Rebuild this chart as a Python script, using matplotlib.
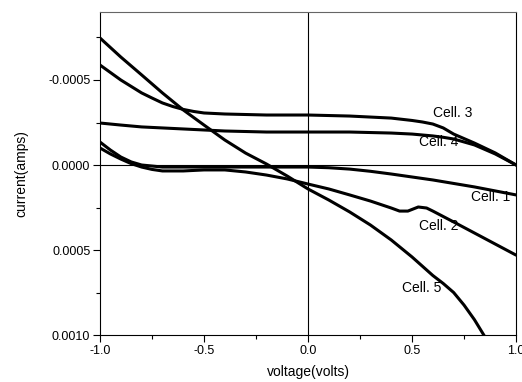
import matplotlib
matplotlib.use('Agg')
import matplotlib.pyplot as plt
from matplotlib.ticker import FormatStrFormatter, MultipleLocator

# voltage (V) / current (A)
v_cell1 = [-1.0, -0.95, -0.9, -0.85, -0.8, -0.7, -0.4, 0.0, 0.1, 0.2, 0.3, 0.4,
           0.6, 0.8, 1.0]
i_cell1 = [-0.000135, -0.000088, -0.000047, -0.000018, 0.0, 0.000012, 0.000012,
           0.000012, 0.000016, 0.000024, 0.000037, 0.000053, 0.000088, 0.000129,
           0.000176]

v_cell2 = [-1.0, -0.95, -0.9, -0.85, -0.8, -0.75, -0.7, -0.6, -0.5, -0.4, -0.3,
           -0.2, -0.1, 0.0, 0.1, 0.2, 0.3, 0.4, 0.44, 0.48, 0.53, 0.57, 0.6, 0.7,
           0.8, 0.9, 1.0]
i_cell2 = [-0.0001, -0.000065, -0.000035, -0.000008, 0.000012, 0.000026, 0.000035,
           0.000035, 0.000029, 0.000029, 0.000041, 0.000059, 0.000082, 0.000112,
           0.000141, 0.000176, 0.000212, 0.000253, 0.000271, 0.000271, 0.000247,
           0.000253, 0.000271, 0.000335, 0.0004, 0.000465, 0.00053]

v_cell3 = [-1.0, -0.9, -0.8, -0.75, -0.7, -0.65, -0.6, -0.55, -0.5, -0.4, -0.2,
           0.0, 0.2, 0.4, 0.5, 0.55, 0.6, 0.65, 0.7, 0.8, 0.9, 1.0]
i_cell3 = [-0.000588, -0.0005, -0.000424, -0.000394, -0.000365, -0.000344,
           -0.000327, -0.000315, -0.000306, -0.0003, -0.000294, -0.000294,
           -0.000288, -0.000276, -0.000262, -0.000253, -0.000241, -0.000218,
           -0.000182, -0.000129, -0.000071, 0.0]

v_cell4 = [-1.0, -0.9, -0.8, -0.6, -0.4, -0.2, 0.0, 0.2, 0.4, 0.5, 0.6, 0.65, 0.7,
           0.8, 0.9, 1.0]
i_cell4 = [-0.000247, -0.000235, -0.000224, -0.000212, -0.0002, -0.000194,
           -0.000194, -0.000194, -0.000188, -0.000182, -0.000171, -0.000163,
           -0.000153, -0.000118, -0.000065, 0.0]

v_cell5 = [-1.0, -0.9, -0.8, -0.7, -0.6, -0.5, -0.4, -0.3, -0.2, -0.1, 0.0, 0.1,
           0.2, 0.3, 0.4, 0.5, 0.6, 0.65, 0.7, 0.75, 0.8, 0.85]
i_cell5 = [-0.000747, -0.000635, -0.00053, -0.000424, -0.000324, -0.000235,
           -0.000147, -0.00007, -0.000006, 0.000065, 0.000141, 0.000206, 0.000276,
           0.000353, 0.000441, 0.000541, 0.00065, 0.000697, 0.00075, 0.000824,
           0.00091, 0.00101]

labels = ['Cell. 1', 'Cell. 2', 'Cell. 3', 'Cell. 4', 'Cell. 5']
label_v = [0.784, 0.63, 0.697, 0.63, 0.545]
label_i = [0.000188, 0.000359, -0.000306, -0.000135, 0.000724]


def plot_data(fname='out.png'):
    fig = plt.figure(figsize=(5.22, 3.82), dpi=100)
    ax = fig.add_axes([0.1916, 0.123, 0.797, 0.8456])

    ax.axhline(0, c='k', lw=0.8, zorder=1)
    ax.axvline(0, c='k', lw=0.8, zorder=1)
    for v, i in [(v_cell1, i_cell1), (v_cell2, i_cell2), (v_cell3, i_cell3),
                 (v_cell4, i_cell4), (v_cell5, i_cell5)]:
        ax.plot(v, i, c='k', lw=2.2, solid_capstyle='round',
                solid_joinstyle='round', zorder=2)

    for lab, x, y in zip(labels, label_v, label_i):
        ha = 'left' if lab == 'Cell. 1' else 'center'
        ax.text(x, y, lab, ha=ha, va='center', fontsize=10, zorder=3)

    ax.set_xlim(-1.0, 1.0)
    ax.set_ylim(0.0010, -0.0009)
    ax.xaxis.set_major_locator(MultipleLocator(0.5))
    ax.xaxis.set_minor_locator(MultipleLocator(0.25))
    ax.yaxis.set_major_locator(MultipleLocator(0.0005))
    ax.yaxis.set_minor_locator(MultipleLocator(0.00025))
    ax.xaxis.set_major_formatter(FormatStrFormatter('%.1f'))
    ax.yaxis.set_major_formatter(FormatStrFormatter('%.4f'))
    ax.tick_params(which='major', direction='out', length=5, width=0.8,
                   labelsize=9, pad=2)
    ax.tick_params(which='minor', direction='out', length=3, width=0.8)
    for s in ax.spines.values():
        s.set_linewidth(0.8)
    ax.spines['top'].set_color('#666666')

    ax.set_xlabel('voltage(volts)', fontsize=10, labelpad=6)
    ax.set_ylabel('current(amps)', fontsize=10, labelpad=14)

    fig.savefig(fname, dpi=100)
    plt.close()


if __name__ == '__main__':
    plt.rcParams.update({"font.family": ["Liberation Sans", "DejaVu Sans"]})
    plot_data()
